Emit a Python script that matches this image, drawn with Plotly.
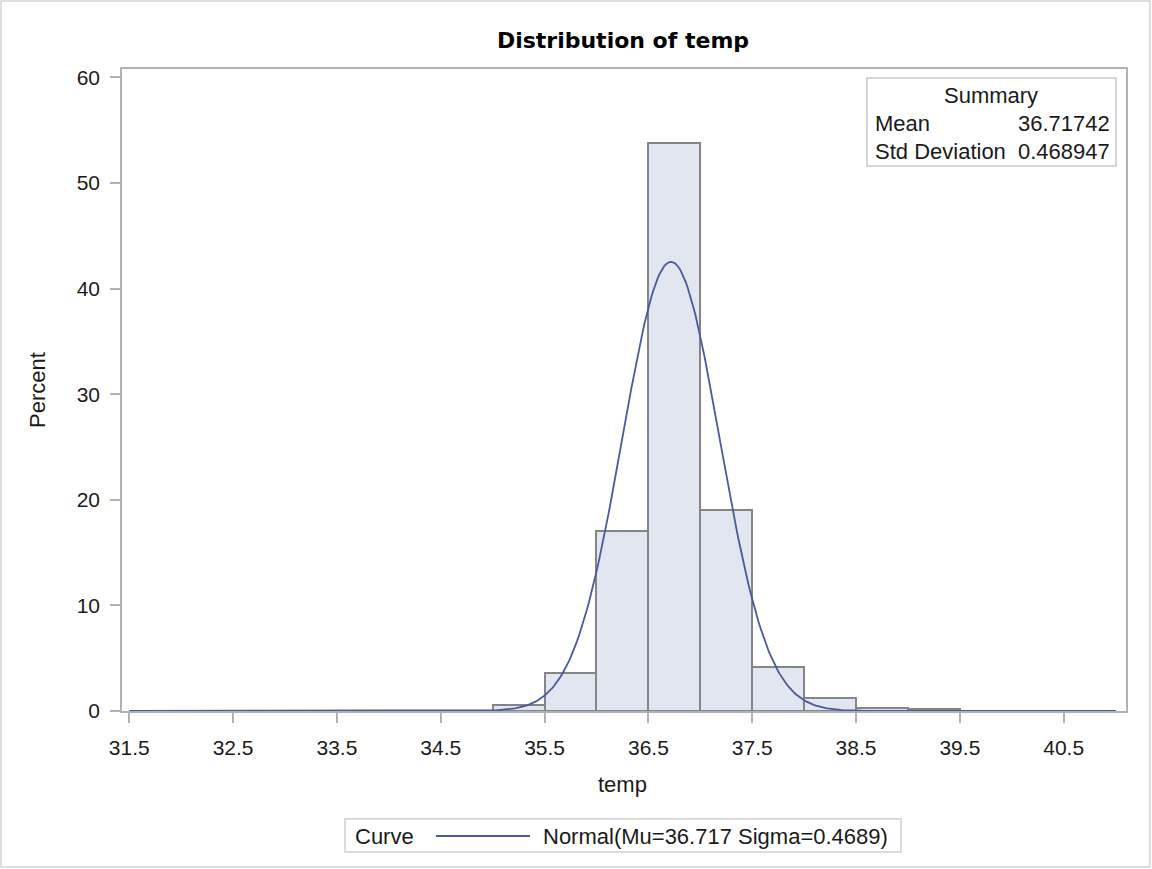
import numpy as np
import plotly.graph_objects as go

# Histogram of temp: 0.5-wide bins, percent of observations per bin
bin_mid = [31.75, 32.25, 32.75, 33.25, 33.75, 34.25, 34.75, 35.25, 35.75, 36.25,
           36.75, 37.25, 37.75, 38.25, 38.75, 39.25, 39.75, 40.25, 40.75]
percent = [0.02, 0.02, 0.02, 0.02, 0.02, 0.02, 0.02, 0.6, 3.6, 17.0,
           53.8, 19.0, 4.2, 1.2, 0.3, 0.2, 0.03, 0.03, 0.03]
bin_width = 0.5

# Fitted normal parameters
mu = 36.71742
sigma = 0.468947

x_ticks = [31.5, 32.5, 33.5, 34.5, 35.5, 36.5, 37.5, 38.5, 39.5, 40.5]
y_ticks = [0, 10, 20, 30, 40, 50, 60]

FONT = "Liberation Sans, Arial, sans-serif"
TXT = "#1a1a1a"
AXIS = "#aeb2b6"

# plot-area geometry in pixels (used to place decorations in paper units)
W, H = 1152, 869
L, R, T, B = 122, 26, 69, 158
PW, PH = W - L - R, H - T - B


def px(xp):
    return (xp - L) / PW


def py(yp):
    return (H - B - yp) / PH


# normal density scaled to percent per bin
xc = np.linspace(31.5, 41.0, 600)
yc = 100 * bin_width * np.exp(-0.5 * ((xc - mu) / sigma) ** 2) / (sigma * np.sqrt(2 * np.pi))

fig = go.Figure()
fig.add_trace(go.Bar(
    x=bin_mid, y=percent, width=bin_width,
    marker=dict(color="#e1e6f0", line=dict(color="#858585", width=2)),
    showlegend=False, hoverinfo="x+y",
))
fig.add_trace(go.Scatter(
    x=xc, y=yc, mode="lines",
    line=dict(color="#4a5a9c", width=1.8),
    name="Normal(Mu=36.717 Sigma=0.4689)", showlegend=False,
))

fig.update_layout(
    width=W, height=H,
    margin=dict(l=L, r=R, t=T, b=B),
    paper_bgcolor="white", plot_bgcolor="white",
    font=dict(family=FONT, color=TXT, size=21),
    bargap=0,
    title=dict(
        text="<b>Distribution of temp</b>",
        font=dict(family="DejaVu Sans, sans-serif", size=22, color="#000"),
        x=px(623), xref="paper", xanchor="center",
        y=1 - 40 / H, yref="container", yanchor="middle",
    ),
    xaxis=dict(
        range=[31.43, 41.1], tickvals=x_ticks, ticktext=[f"{v:.1f}" for v in x_ticks],
        ticks="outside", ticklen=10, tickcolor=AXIS, tickwidth=1.5,
        showline=True, linecolor=AXIS, linewidth=1.5, mirror=True,
        showgrid=False, zeroline=False, ticklabelstandoff=7,
        tickfont=dict(size=21, color=TXT),
    ),
    yaxis=dict(
        range=[0, 60.8], tickvals=y_ticks,
        ticks="outside", ticklen=10, tickcolor=AXIS, tickwidth=1.5,
        showline=True, linecolor=AXIS, linewidth=1.5, mirror=True,
        showgrid=False, zeroline=False, ticklabelstandoff=6,
        tickfont=dict(size=21, color=TXT),
    ),
)

ann = []
# axis titles
ann.append(dict(text="temp", x=px(622), y=py(784), xref="paper", yref="paper",
                showarrow=False, xanchor="center", yanchor="middle",
                font=dict(size=22, color=TXT)))
ann.append(dict(text="Percent", x=px(37), y=py(390), xref="paper", yref="paper",
                showarrow=False, xanchor="center", yanchor="middle", textangle=-90,
                font=dict(size=22, color=TXT)))

# summary inset
ann.append(dict(text="Summary", x=px(991), y=py(95), xref="paper", yref="paper",
                showarrow=False, xanchor="center", yanchor="middle", font=dict(size=22)))
ann.append(dict(text="Mean", x=px(873), y=py(124), xref="paper", yref="paper",
                showarrow=False, xanchor="left", yanchor="middle", font=dict(size=22)))
ann.append(dict(text=f"{mu:.5f}", x=px(1112), y=py(124), xref="paper", yref="paper",
                showarrow=False, xanchor="right", yanchor="middle", font=dict(size=22)))
ann.append(dict(text="Std Deviation", x=px(873), y=py(151), xref="paper", yref="paper",
                showarrow=False, xanchor="left", yanchor="middle", font=dict(size=22)))
ann.append(dict(text=f"{sigma:.6f}", x=px(1112), y=py(151), xref="paper", yref="paper",
                showarrow=False, xanchor="right", yanchor="middle", font=dict(size=22)))

# legend below the axis
ann.append(dict(text="Curve", x=px(353), y=py(836), xref="paper", yref="paper",
                showarrow=False, xanchor="left", yanchor="middle", font=dict(size=22)))
ann.append(dict(text="Normal(Mu=36.717 Sigma=0.4689)", x=px(541), y=py(836),
                xref="paper", yref="paper", showarrow=False,
                xanchor="left", yanchor="middle", font=dict(size=22)))

shapes = [
    # outer border of the graph
    dict(type="rect", xref="paper", yref="paper", x0=px(1), x1=px(1150), y0=py(1), y1=py(867),
         line=dict(color="#d4d4d4", width=1.5), fillcolor="rgba(0,0,0,0)", layer="below"),
    # summary box
    dict(type="rect", xref="paper", yref="paper", x0=px(867), x1=px(1116), y0=py(78), y1=py(166),
         line=dict(color="#c8c8c8", width=1.5), fillcolor="white", layer="below"),
    # legend box and line sample
    dict(type="rect", xref="paper", yref="paper", x0=px(345), x1=px(901), y0=py(819), y1=py(852),
         line=dict(color="#d0d0d0", width=1.5), fillcolor="rgba(0,0,0,0)"),
    dict(type="line", xref="paper", yref="paper", x0=px(436), x1=px(530), y0=py(836), y1=py(836),
         line=dict(color="#4a5a9c", width=1.8)),
]

fig.update_layout(annotations=ann, shapes=shapes)
fig.write_html("out.html")
